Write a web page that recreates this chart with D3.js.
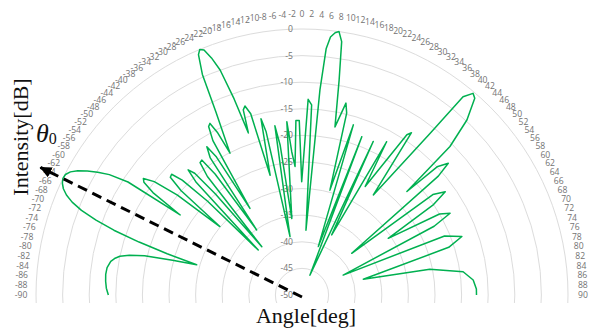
<!DOCTYPE html>
<html>
<head>
<meta charset="utf-8">
<script src="https://cdn.jsdelivr.net/npm/d3@7"></script>
<style>
  html, body { margin: 0; padding: 0; background: #fff; }
  svg { display: block; }
</style>
</head>
<body>
<svg id="chart" width="589" height="329"></svg>
<script>
// Beam pattern samples: direction (deg) and normalised intensity (dB)
const angleDeg = [
  -90, -88, -86, -84, -82, -80, -79, -78, -77, -76, -75, -74,
  -73, -72, -71, -70, -69, -68, -67, -66, -65, -64, -63, -62, -61, -60, -59, -58, -57, -56.7,
  -55.5, -54.5, -53.7, -52.5, -51.3, -50.2,
  -49.2, -48.2, -47.2, -46.2, -45.2, -44.2,
  -43.2, -42.3, -41.4, -40.6, -39.8,
  -38.6, -37.6, -36.6, -35.7, -34.9,
  -33.8, -32.7, -31.8, -31.0,
  -30.0, -29.0, -28.2, -27.5, -26.9,
  -25.2, -24.3, -23.3, -22.6, -21.8, -20.9, -20.0, -19.1, -18.3,
  -17.6, -16.8, -15.8, -14.9,
  -13.1, -12.4, -11.6,
  -9.1, -8.3, -7.6,
  -5.0, -4.1, -3.1,
  -2.0, -0.9, -0.15,
  1.8, 2.9, 3.5,
  5.0, 5.6, 6.3, 7.2, 8.0, 8.9, 9.8, 11.1,
  12.9, 13.8, 14.9,
  16.8, 18.6,
  20.7, 21.8,
  24.9, 26.3,
  28.9, 30.2,
  33.2, 34.0, 35.5,
  38.4, 39.1, 40.3, 41.3, 43.3, 44.9, 45.4,
  46.5, 48.0, 48.9, 50.0,
  52.5, 54.2, 55.5, 56.7,
  59.5, 61.1, 62.5, 64.2,
  67.5, 69.9, 72.0, 75.6,
  78.6, 81.8, 85.0, 88.0, 90
];
const intensityDb = [
  -13.6, -13.2, -13.0, -12.9, -13.0, -13.5, -14.1, -15.0, -16.7, -19.5, -24.8, -29.4,
  -23.5, -17.8, -12.6, -8.8, -5.6, -3.4, -1.9, -0.9, -0.3, 0, -0.1, -0.7, -1.8, -3.4, -5.2, -7.3, -11.0, -22.6,
  -16.0, -13.5, -13.0, -15.0, -20.0, -29.9,
  -20.0, -16.8, -16.6, -18.8, -25.0, -38.2,
  -21.0, -18.2, -19.5, -25.0, -38.2,
  -21.5, -18.6, -18.4, -22.0, -35.1,
  -19.0, -16.9, -19.5, -31.0,
  -16.5, -13.8, -13.4, -15.5, -20.1,
  -12.0, -4.5, -0.8, 0, -0.4, -2.3, -5.0, -11.0, -17.9,
  -13.5, -12.9, -14.6, -26.7,
  -16.0, -18.6, -38.8,
  -17.8, -21.5, -35.5,
  -17.3, -23.0, -25.8,
  -17.2, -17.2, -28.7,
  -13.2, -14.2, -37.8,
  -11.3, -3.5, -1.2, -0.3, 0, -1.8, -9.0, -17.8,
  -13.0, -14.8, -29.6,
  -16.6, -40.4,
  -18.2, -46.0,
  -18.2, -37.4,
  -17.1, -26.4,
  -14.0, -13.2, -26.9,
  -11.2, -2.0, -0.3, -0.8, -4.8, -10.6, -22.3,
  -15.0, -13.0, -16.0, -37.8,
  -19.0, -16.8, -20.0, -30.6,
  -20.0, -18.2, -22.0, -41.4,
  -21.0, -18.0, -21.0, -38.1,
  -25.5, -19.4, -17.7, -17.2, -17.2
];

// Axis ticks
const radialTicks = [0, -5, -10, -15, -20, -25, -30, -35, -40, -45, -50];
const angularTicks = d3.range(-90, 91, 2);

// Steering direction marked by the arrow, and how far past 0 dB it reaches
const steeringDeg = -64;
const arrowReachDb = 4.7;

const W = 589, H = 329;
const cx = 302, cy = 295, R = 266;
const toRad = d => d * Math.PI / 180;

const svg = d3.select('#chart');
const defs = svg.append('defs');
const r = d3.scaleLinear().domain([-50, 0]).range([0, R]);

const g = svg.append('g').attr('transform', `translate(${cx},${cy})`);

// Grid rings, cut off a little below the centre line
defs.append('clipPath').attr('id', 'gridClip')
  .append('rect')
  .attr('x', -cx).attr('y', -cy)
  .attr('width', W).attr('height', cy + 8);

g.append('g').attr('clip-path', 'url(#gridClip)')
  .selectAll('circle')
  .data(radialTicks.filter(v => v > -50))
  .join('circle')
  .attr('r', d => r(d))
  .attr('fill', 'none')
  .attr('stroke', '#dcdcdc')
  .attr('stroke-width', 1);

const tickFont = '"Open Sans", "Liberation Sans", sans-serif';

// Angular tick labels around the rim
g.append('g').selectAll('text')
  .data(angularTicks)
  .join('text')
  .attr('x', d => (R + 15) * Math.sin(toRad(d)))
  .attr('y', d => -(R + 15) * Math.cos(toRad(d)))
  .attr('text-anchor', 'middle')
  .attr('dominant-baseline', 'central')
  .style('font-family', tickFont)
  .style('font-size', '8.6px')
  .style('fill', '#737373')
  .text(d => String(d));

// Radial tick labels along the vertical
g.append('g').selectAll('text')
  .data(radialTicks)
  .join('text')
  .attr('x', -9)
  .attr('y', d => -r(d))
  .attr('text-anchor', 'end')
  .attr('dominant-baseline', 'central')
  .style('font-family', tickFont)
  .style('font-size', '8.6px')
  .style('fill', '#737373')
  .text(d => String(d));

// Beam pattern
const pattern = angleDeg.map((a, i) => [a, intensityDb[i]]);
const radial = d3.lineRadial()
  .angle(d => toRad(d[0]))
  .radius(d => r(d[1]));

g.append('path')
  .datum(pattern)
  .attr('d', radial)
  .attr('fill', 'none')
  .attr('stroke', '#00b050')
  .attr('stroke-width', 1.5)
  .attr('stroke-linejoin', 'round');

// Steering arrow
defs.append('marker')
  .attr('id', 'arrowHead')
  .attr('markerUnits', 'userSpaceOnUse')
  .attr('viewBox', '0 -6 12 12')
  .attr('markerWidth', 12)
  .attr('markerHeight', 12)
  .attr('refX', 11)
  .attr('refY', 0)
  .attr('orient', 'auto')
  .append('path')
  .attr('d', 'M0,-5.5L12,0L0,5.5Z')
  .attr('fill', '#000');

const tip = r(arrowReachDb);
g.append('line')
  .attr('x1', 0).attr('y1', 2)
  .attr('x2', tip * Math.sin(toRad(steeringDeg)))
  .attr('y2', -tip * Math.cos(toRad(steeringDeg)))
  .attr('stroke', '#000')
  .attr('stroke-width', 3)
  .attr('stroke-dasharray', '10,6')
  .attr('marker-end', 'url(#arrowHead)');

// Titles
const serif = '"Liberation Serif", "Times New Roman", serif';
svg.append('text')
  .attr('x', 306).attr('y', 323)
  .attr('text-anchor', 'middle')
  .style('font-family', serif)
  .style('font-size', '22px')
  .style('fill', '#111')
  .text('Angle[deg]');

svg.append('text')
  .attr('transform', 'translate(28,137) rotate(-90)')
  .attr('text-anchor', 'middle')
  .style('font-family', serif)
  .style('font-size', '22px')
  .style('fill', '#111')
  .text('Intensity[dB]');

const theta = svg.append('text')
  .attr('x', 36).attr('y', 142)
  .style('font-family', serif)
  .style('fill', '#111');
theta.append('tspan').style('font-size', '26px').style('font-style', 'italic').text('θ');
theta.append('tspan').style('font-size', '16px').attr('dy', 2).text('0');
</script>
</body>
</html>
